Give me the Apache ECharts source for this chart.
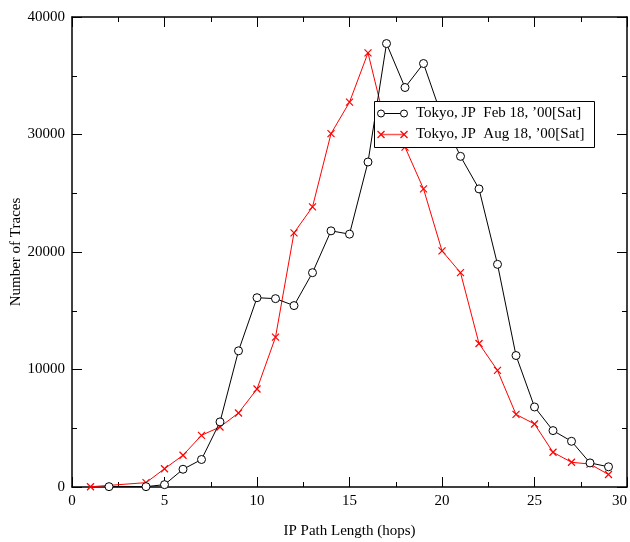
<!DOCTYPE html>
<html><head><meta charset="utf-8">
<script src="https://cdn.jsdelivr.net/npm/echarts@6/dist/echarts.min.js"></script>
<style>html,body{margin:0;padding:0;background:#fff}#c{width:630px;height:542px}</style>
</head><body><div id="c"></div>
<script>
const febHops = [2,4,5,6,7,8,9,10,11,12,13,14,15,16,17,18,19,20,21,22,23,24,25,26,27,28,29];
const febTraces = [30,30,200,1510,2340,5540,11590,16110,16030,15440,18240,21800,21520,27660,37740,34000,36040,31500,28140,25370,18950,11190,6810,4800,3890,2050,1720];
const augHops = [1,4,5,6,7,8,9,10,11,12,13,14,15,16,17,18,19,20,21,22,23,24,25,26,27,28,29];
const augTraces = [20,370,1550,2700,4400,5110,6300,8340,12750,21630,23840,30070,32750,36950,30500,28930,25370,20100,18240,12210,9920,6180,5365,2955,2105,1950,1060];
const xTicks = [0,5,10,15,20,25,30];
const yTicks = [0,10000,20000,30000,40000];
const legendNames = ["Tokyo, JP  Feb 18, \u201900[Sat]", "Tokyo, JP  Aug 18, \u201900[Sat]"];

const FONT = '"Liberation Serif","DejaVu Serif",serif';
const chart = echarts.init(document.getElementById('c'), null, {renderer:'canvas'});
const pair = (xs, ys) => xs.map((x,i)=>[x, ys[i]]);
const tickStyle = {show:true, inside:true, length:10, lineStyle:{color:'#000', width:1}};
const minor = {show:true, splitNumber:2, length:5, lineStyle:{color:'#000', width:1}};
const xBase = {type:'value', min:xTicks[0], max:xTicks[xTicks.length-1], interval:5,
  axisLine:{show:true, onZero:false, lineStyle:{color:'#000', width:1.5}},
  axisTick:tickStyle, minorTick:minor, splitLine:{show:false}};
const yBase = {type:'value', min:yTicks[0], max:yTicks[yTicks.length-1], interval:10000,
  axisLine:{show:true, onZero:false, lineStyle:{color:'#000', width:1.5}},
  axisTick:tickStyle, minorTick:minor, splitLine:{show:false}};
const xSym = 'path://M0,0L10,10M10,0L0,10';
const lbl = {fontFamily:FONT, fontSize:15, color:'#000', formatter:(v)=>String(v)};
const Z = {zlevel:2, z:100};
const el = (o) => Object.assign({}, Z, o);

chart.setOption({
  animation:false,
  backgroundColor:'#fff',
  grid:{left:72, top:17, width:555, height:470, outerBoundsMode:'none', containLabel:false},
  xAxis:[
    Object.assign({}, xBase, {position:'bottom', name:'IP Path Length (hops)', nameLocation:'middle', nameGap:37,
      nameTextStyle:{fontFamily:FONT, fontSize:15, color:'#000'},
      axisLabel:Object.assign({margin:7, alignMaxLabel:'right'}, lbl)}),
    Object.assign({}, xBase, {position:'top', axisLabel:{show:false}})
  ],
  yAxis:[
    Object.assign({}, yBase, {position:'left', name:'Number of Traces', nameLocation:'middle', nameGap:48, nameMoveOverlap:false,
      nameTextStyle:{fontFamily:FONT, fontSize:15, color:'#000'},
      axisLabel:Object.assign({margin:7}, lbl)}),
    Object.assign({}, yBase, {position:'right', axisLabel:{show:false}})
  ],
  series:[
    {type:'line', name:legendNames[0], data:pair(febHops, febTraces), symbol:'circle', symbolSize:8,
      lineStyle:{color:'#000', width:1}, itemStyle:{color:'#fff', borderColor:'#000', borderWidth:1}, z:3},
    {type:'line', name:legendNames[1], data:pair(augHops, augTraces), symbol:xSym, symbolSize:7,
      lineStyle:{color:'#ff0000', width:1}, itemStyle:{color:'#ff0000', borderColor:'#ff0000', borderWidth:1.2}, z:2}
  ],
  graphic:{elements:[
    el({type:'rect', shape:{x:374.5, y:101.5, width:220, height:46}, style:{fill:'#fff', stroke:'#000', lineWidth:1}}),
    el({type:'line', shape:{x1:381, y1:113.5, x2:404, y2:113.5}, style:{stroke:'#000', lineWidth:1}}),
    el({type:'circle', shape:{cx:381, cy:113.5, r:3.5}, style:{fill:'#fff', stroke:'#000', lineWidth:1}}),
    el({type:'circle', shape:{cx:404, cy:113.5, r:3.5}, style:{fill:'#fff', stroke:'#000', lineWidth:1}}),
    el({type:'text', x:416, y:113.5, style:{text:legendNames[0], font:'15px '+FONT, fill:'#000', verticalAlign:'middle'}}),
    el({type:'line', shape:{x1:381, y1:134.5, x2:404, y2:134.5}, style:{stroke:'#ff5555', lineWidth:1.5}}),
    el({type:'line', shape:{x1:377.5, y1:131, x2:384.5, y2:138}, style:{stroke:'#ff0000', lineWidth:1.2}}),
    el({type:'line', shape:{x1:384.5, y1:131, x2:377.5, y2:138}, style:{stroke:'#ff0000', lineWidth:1.2}}),
    el({type:'line', shape:{x1:400.5, y1:131, x2:407.5, y2:138}, style:{stroke:'#ff0000', lineWidth:1.2}}),
    el({type:'line', shape:{x1:407.5, y1:131, x2:400.5, y2:138}, style:{stroke:'#ff0000', lineWidth:1.2}}),
    el({type:'text', x:416, y:134.5, style:{text:legendNames[1], font:'15px '+FONT, fill:'#000', verticalAlign:'middle'}})
  ]}
});
</script></body></html>
